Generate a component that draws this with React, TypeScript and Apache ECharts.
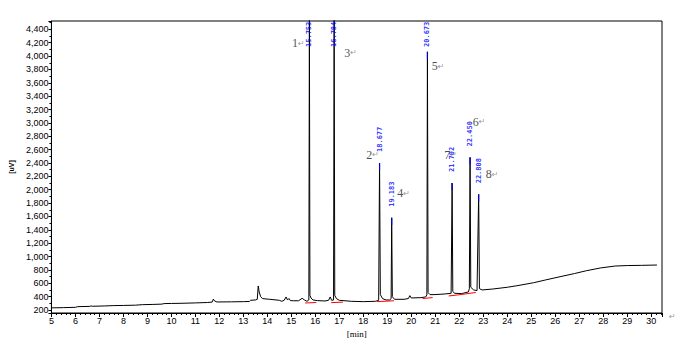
import React, { useEffect, useRef } from "react";
import * as echarts from "echarts";

// Chromatogram trace: retention time [min] and detector response [uV]
const traceTimes = [
  5.0, 5.5, 6.0, 6.1, 6.6, 6.65, 6.7, 7.2, 7.6, 8.0, 8.5, 8.8, 9.2, 9.6, 9.7, 10.0, 10.4, 11.0, 11.5,
  11.7, 11.75, 11.8, 11.9, 12.5, 13.0, 13.25, 13.3, 13.5, 13.58, 13.62, 13.66, 13.72, 13.8, 14.1, 14.5,
  14.6, 14.7, 14.78, 14.84, 14.9, 14.96, 15.1, 15.3, 15.45, 15.55, 15.65, 15.73, 15.753, 15.775, 15.82,
  15.9, 16.1, 16.4, 16.55, 16.62, 16.68, 16.76, 16.784, 16.81, 16.88, 17.0, 17.5, 18.0, 18.5, 18.64,
  18.677, 18.71, 18.8, 18.95, 19.1, 19.16, 19.183, 19.21, 19.3, 19.7, 19.88, 19.94, 20.0, 20.4, 20.6,
  20.65, 20.673, 20.7, 20.78, 20.95, 21.2, 21.4, 21.66, 21.702, 21.73, 21.8, 22.1, 22.38, 22.42, 22.45,
  22.48, 22.6, 22.74, 22.808, 22.84, 22.95, 23.4, 24.0, 24.4, 25.1, 25.6, 26.2, 26.8, 27.3, 27.9, 28.5,
  29.0, 29.6, 30.24,
];
const traceValues = [
  232, 235, 240, 250, 254, 262, 256, 260, 266, 268, 272, 280, 283, 288, 296, 298, 300, 306, 312,
  318, 362, 335, 320, 322, 325, 328, 345, 350, 360, 560, 470, 400, 370, 360, 345,
  330, 345, 395, 350, 372, 340, 338, 338, 375, 350, 330, 350, 4600, 420, 380,
  350, 340, 335, 345, 395, 345, 350, 4600, 420, 370, 345, 330, 325, 330, 345,
  2400, 430, 370, 350, 350, 370, 1580, 400, 360, 360, 372, 415, 380, 385, 395,
  425, 4064, 460, 430, 430, 435, 440, 450, 2100, 480, 450, 445, 470, 520, 2484,
  540, 500, 490, 1931, 520, 500, 514, 540, 563, 608, 650, 698, 745, 788, 830, 858,
  865, 868, 873,
];

// Identified peaks
const peakNumbers = ["1", "2", "3", "4", "5", "6", "7", "8"];
const peakTimes = [15.753, 18.677, 16.784, 19.183, 20.673, 22.45, 21.702, 22.808];
// where the peak number annotations sit (time, response)
const numberTimes = [15.03, 18.12, 17.21, 19.41, 20.85, 22.56, 21.37, 23.1];
const numberValues = [4190, 2526, 4052, 1946, 3850, 3017, 2526, 2230];

// Integration baselines (red): start time, start value, end time, end value
const baselineStartT = [15.58, 16.66, 18.57, 20.47, 21.56, 21.93];
const baselineStartV = [305, 310, 325, 372, 410, 425];
const baselineEndT = [16.04, 17.15, 19.28, 20.89, 21.93, 22.69];
const baselineEndV = [312, 318, 338, 385, 425, 462];

const X_MIN = 5;
const X_MAX = 30.45;
const Y_MIN = 155;
const Y_MAX = 4525;

export default function App() {
  const ref = useRef<HTMLDivElement>(null);
  useEffect(() => {
    if (!ref.current) return;
    const chart = echarts.init(ref.current, null, { renderer: "svg" });

    const gridTop = 21;
    const gridBottom = 36;
    const gridH = 349 - gridTop - gridBottom;
    const pxPerUnit = gridH / (Y_MAX - Y_MIN);
    const labelLen = 25;
    const gap = 11;

    const trace = traceTimes.map((t, i) => [t, traceValues[i]]);
    const peakValue = (t: number) => {
      const i = traceTimes.indexOf(t);
      return traceValues[i];
    };

    const timeLabels = peakTimes.map((t) => {
      const v = peakValue(t);
      const topPx = gridTop + (Y_MAX - Math.min(v, Y_MAX)) * pxPerUnit;
      const bottomPx = Math.max(topPx - gap, gridTop + labelLen + 1);
      const anchorV = Y_MAX - (bottomPx - gridTop) / pxPerUnit;
      return { value: [t, anchorV], name: t.toFixed(3) };
    });
    const tips = peakTimes
      .map((t) => [t, peakValue(t)])
      .filter((p) => p[1] < Y_MAX);

    const baselineSeries = baselineStartT.map((t, i) => ({
      type: "line",
      data: [
        [t, baselineStartV[i]],
        [baselineEndT[i], baselineEndV[i]],
      ],
      showSymbol: false,
      silent: true,
      lineStyle: { color: "#ff0000", width: 1 },
      z: 3,
    }));

    const axisFont = {
      fontFamily: "'Liberation Sans Narrow', 'Liberation Sans', Arial, sans-serif",
      fontSize: 9,
      color: "#000",
    };

    chart.setOption({
      animation: false,
      backgroundColor: "#fff",
      grid: {
        left: 49,
        right: 18,
        top: gridTop,
        bottom: gridBottom,
        show: true,
        borderColor: "#000",
        borderWidth: 1,
        backgroundColor: "transparent",
      },
      xAxis: {
        type: "value",
        min: X_MIN,
        max: X_MAX,
        interval: 1,
        name: "[min]",
        nameLocation: "middle",
        nameGap: 15,
        nameTextStyle: { fontFamily: "'Liberation Serif', serif", fontSize: 9, color: "#000" },
        axisLine: { show: true, onZero: false, lineStyle: { color: "#000", width: 1 } },
        axisTick: { show: true, length: 4, lineStyle: { color: "#000" } },
        minorTick: { show: true, splitNumber: 5, length: 2, lineStyle: { color: "#000" } },
        splitLine: { show: false },
        axisLabel: {
          ...axisFont,
          margin: 3,
          showMaxLabel: false,
          formatter: (v: number) => String(Math.round(v)),
        },
      },
      yAxis: {
        type: "value",
        min: Y_MIN,
        max: Y_MAX,
        splitNumber: 22,
        name: "[uV]",
        nameLocation: "middle",
        nameRotate: 90,
        nameGap: 23,
        nameTextStyle: { fontFamily: "'Liberation Sans', sans-serif", fontSize: 7, fontWeight: "bold", color: "#000" },
        axisLine: { show: true, lineStyle: { color: "#000", width: 1 } },
        axisTick: { show: true, length: 3, lineStyle: { color: "#000" } },
        minorTick: { show: true, splitNumber: 2, length: 2, lineStyle: { color: "#000" } },
        splitLine: { show: false },
        axisLabel: {
          ...axisFont,
          margin: 3,
          showMinLabel: false,
          showMaxLabel: false,
          formatter: (v: number) => (v % 200 === 0 ? v.toLocaleString("en-US") : ""),
        },
      },
      series: [
        {
          type: "line",
          data: trace,
          showSymbol: false,
          silent: true,
          clip: true,
          lineStyle: { color: "#000", width: 1 },
          z: 2,
        },
        ...baselineSeries,
        {
          type: "scatter",
          data: tips,
          symbol: "rect",
          symbolSize: [1.2, 7],
          symbolOffset: [0, 3.5],
          itemStyle: { color: "#0000ff" },
          silent: true,
          z: 4,
        },
        {
          type: "scatter",
          data: timeLabels,
          symbol: "circle",
          symbolSize: 1,
          itemStyle: { color: "rgba(0,0,0,0)" },
          silent: true,
          z: 5,
          label: {
            show: true,
            position: "inside",
            rotate: 90,
            align: "left",
            verticalAlign: "middle",
            formatter: (p: any) => p.name,
            fontFamily: "'DejaVu Sans Mono', monospace",
            fontSize: 7,
            fontWeight: "bold",
            color: "#0000ff",
          },
        },
        {
          type: "scatter",
          data: numberTimes.map((t, i) => ({ value: [t, numberValues[i]], name: peakNumbers[i] })),
          symbol: "circle",
          symbolSize: 1,
          itemStyle: { color: "rgba(0,0,0,0)" },
          silent: true,
          z: 5,
          label: {
            show: true,
            position: "inside",
            align: "left",
            verticalAlign: "middle",
            formatter: (p: any) => `{n|${p.name}}{r|↵}`,
            rich: {
              n: { fontFamily: "'Liberation Serif', serif", fontSize: 12, color: "#1a1a1a" },
              r: { fontFamily: "'DejaVu Sans', sans-serif", fontSize: 8, color: "#808080" },
            },
          },
        },
      ],
      graphic: [
        {
          type: "text",
          left: 669,
          top: 312,
          style: { text: "↵", fontSize: 8, fill: "#999", fontFamily: "'DejaVu Sans', sans-serif" },
        },
      ],
    });
    return () => chart.dispose();
  }, []);
  return (
    <div
      ref={ref}
      style={{ position: "absolute", left: 0, top: 0, width: 680, height: 349 }}
    />
  );
}
